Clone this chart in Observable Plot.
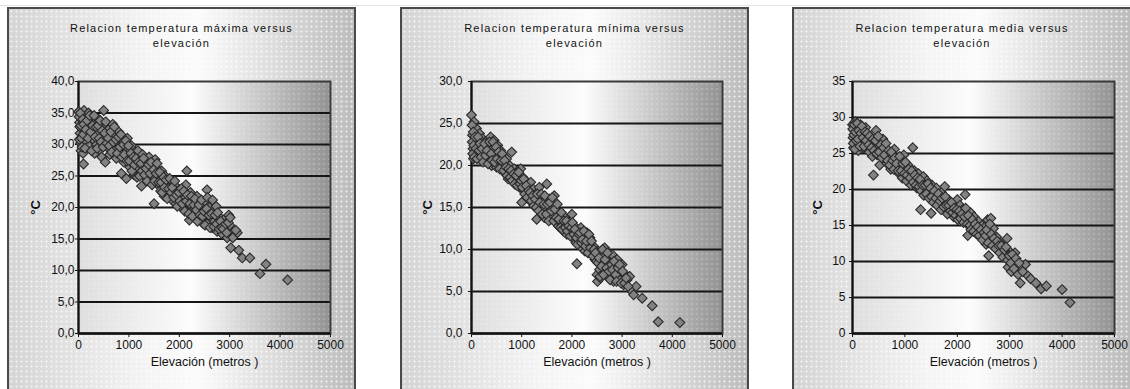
<!DOCTYPE html>
<html><head><meta charset="utf-8">
<script src="https://cdn.jsdelivr.net/npm/d3@7"></script>
<script src="https://cdn.jsdelivr.net/npm/@observablehq/plot@0.6"></script>
<style>
body{margin:0;background:#fff;}
#wrap{position:relative;width:1130px;height:389px;overflow:hidden;font-family:"Liberation Sans",Arial,sans-serif;}
#topline{position:absolute;left:0;top:5px;width:1130px;height:1px;background:#e2e2e2;}
.panel{position:absolute;top:7px;height:400px;box-sizing:border-box;border:2px solid #4a4a4a;
 background-image: radial-gradient(circle, rgba(255,255,255,0.6) 0.9px, transparent 1.3px), linear-gradient(to right,#d4d4d4 0%,#f4f4f4 40%,#fbfbfb 55%,#bcbcbc 100%);
 background-size: 5px 5px, 100% 100%;}
.title{position:absolute;left:0;right:0;top:12px;text-align:center;font-size:11px;line-height:15px;letter-spacing:1.2px;color:#111;}
</style></head>
<body><div id="wrap"><div id="topline"></div></div>
<script>
// ---- data ----
const elevTicks = [0, 1000, 2000, 3000, 4000, 5000];
const ticksMax = [0, 5, 10, 15, 20, 25, 30, 35, 40];
const ticksMin = [0, 5, 10, 15, 20, 25, 30];
const ticksMedia = [0, 5, 10, 15, 20, 25, 30, 35];
const titles = [
  "Relacion temperatura máxima versus<br>elevación",
  "Relacion temperatura mínima versus<br>elevación",
  "Relacion temperatura media versus<br>elevación"
];
const xLabel = "Elevación (metros )";
const yLabel = "°C";

// [elevación m, temperatura máxima °C]
const puntosMax = [[0,35.2],[20,33.5],[30,31.8],[40,30.2],[50,29.0],[60,34.8],[80,32.6],[90,28.6],[100,26.9],[110,35.4],[120,33.9],[140,31.2],[150,34.6],[160,30.4],[180,32.8],[200,35.0],[210,29.8],[230,33.4],[250,31.6],[270,34.2],[290,30.8],[300,32.2],[320,28.6],[340,33.6],[360,30.0],[380,31.8],[400,34.0],[420,29.2],[440,32.6],[460,28.0],[480,30.6],[500,35.4],[510,33.0],[530,27.2],[550,31.4],[570,29.6],[600,32.4],[620,28.4],[650,30.8],[680,33.2],[700,29.0],[720,31.6],[750,27.8],[780,30.2],[800,32.0],[830,28.6],[850,25.4],[870,30.8],[900,27.2],[920,29.6],[950,24.6],[970,31.0],[1000,28.2],[1020,26.4],[1050,29.8],[1080,27.0],[1100,25.2],[1120,28.8],[1150,26.2],[1180,29.0],[1200,27.6],[1230,25.6],[1250,23.4],[1270,28.4],[1300,26.6],[1330,24.8],[1350,27.4],[1380,25.8],[1400,28.0],[1430,24.2],[1450,26.8],[1480,25.0],[1500,20.6],[1520,27.6],[1550,23.8],[1580,26.0],[1600,24.6],[1630,22.6],[1650,25.8],[1680,23.6],[1700,21.8],[1720,25.0],[1750,23.0],[1780,24.2],[1800,22.0],[1830,23.6],[1850,21.2],[1880,24.0],[1900,22.6],[1930,20.6],[1950,23.2],[1980,21.8],[2000,22.8],[2030,20.2],[2050,22.0],[2080,19.8],[2100,21.4],[2130,23.6],[2150,25.8],[2180,20.8],[2200,18.0],[2220,22.4],[2250,19.6],[2280,21.2],[2300,20.0],[2330,18.6],[2350,21.8],[2380,19.2],[2400,20.6],[2430,18.0],[2450,19.8],[2480,17.4],[2500,21.0],[2520,18.8],[2550,22.8],[2580,17.6],[2600,20.0],[2620,18.4],[2650,16.8],[2680,19.4],[2700,17.8],[2730,20.2],[2750,16.2],[2780,18.6],[2800,17.0],[2850,15.8],[2880,18.0],[2900,16.4],[2950,15.2],[2980,18.8],[3000,17.2],[3020,13.6],[3050,16.0],[3100,15.6],[3150,16.0],[3180,13.2],[3250,12.0],[3400,12.0],[3600,9.5],[3720,11.0],[4150,8.5],
[10,34.4],[15,30.8],[25,32.8],[35,35.0],[45,33.0],[55,31.0],[70,29.6],[85,34.0],[95,31.6],[105,33.2],[130,29.4],[145,32.4],[170,33.8],[190,31.0],[220,34.6],[240,32.0],[260,29.0],[280,33.0],[310,34.6],[330,31.2],[350,32.8],[370,29.4],[390,33.0],[410,31.0],[430,33.8],[450,30.4],[470,32.2],[490,29.6],[520,31.8],[540,33.6],[560,30.2],[590,31.0],[610,29.8],[640,32.0],[660,28.8],[690,30.4],[710,32.8],[740,30.8],[770,28.6],[790,31.2],[820,29.6],[840,31.6],[860,28.0],[890,30.0],[910,28.4],[940,30.6],[960,27.4],[990,29.8],[1010,27.4],[1040,28.6],[1060,25.8],[1090,28.0],[1110,26.8],[1140,27.8],[1160,24.8],[1190,27.2],[1210,25.0],[1240,27.0],[1260,25.8],[1290,27.8],[1310,25.2],[1340,26.2],[1360,24.2],[1390,26.8],[1420,25.4],[1440,27.2],[1460,23.6],[1490,26.0],[1510,24.2],[1540,25.4],[1560,27.0],[1590,24.0],[1610,25.6],[1640,24.0],[1660,22.4],[1690,24.8],[1710,23.2],[1740,24.4],[1760,21.4],[1790,23.0],[1810,24.6],[1840,22.4],[1860,23.2],[1890,21.6],[1910,24.2],[1940,22.0],[1960,20.2],[1990,22.4],[2010,21.0],[2040,23.0],[2060,20.6],[2090,22.6],[2110,19.4],[2140,21.0],[2160,22.0],[2190,19.0],[2210,20.6],[2240,21.8],[2260,18.6],[2290,20.4],[2310,21.4],[2340,19.6],[2360,17.8],[2390,20.4],[2410,18.8],[2440,21.2],[2460,18.6],[2490,19.4],[2510,17.2],[2540,19.8],[2560,21.6],[2590,18.8],[2610,16.8],[2640,19.0],[2660,21.2],[2690,17.0],[2710,18.8],[2740,17.4],[2760,19.2],[2790,16.6],[2820,17.8],[2840,16.8],[2870,16.6],[2920,17.4],[2940,16.0],[2970,17.6],[3010,18.4],[3060,15.2],[3120,16.4]];

// [elevación m, temperatura mínima °C]
const puntosMin = [[0,26.0],[20,23.6],[30,22.0],[40,20.8],[50,25.2],[60,23.0],[80,21.6],[100,24.4],[120,22.6],[140,21.2],[160,23.8],[180,22.2],[200,20.6],[220,23.2],[250,21.6],[270,22.8],[300,20.4],[320,22.4],[350,21.0],[380,23.4],[400,20.0],[420,22.0],[450,23.0],[480,21.0],[500,19.8],[520,22.4],[550,20.6],[580,21.8],[600,19.6],[630,21.2],[650,20.2],[680,19.0],[700,20.8],[730,18.4],[760,20.0],[800,21.6],[820,18.8],[850,19.6],[880,17.8],[900,19.2],[930,18.2],[960,17.4],[980,19.6],[1000,15.6],[1020,18.6],[1050,17.0],[1080,18.2],[1100,16.4],[1130,17.6],[1160,16.0],[1180,18.0],[1200,15.6],[1230,17.2],[1260,15.2],[1280,16.6],[1300,13.6],[1320,15.8],[1350,17.4],[1380,14.8],[1400,16.2],[1430,15.0],[1450,13.8],[1480,15.6],[1500,17.8],[1520,14.4],[1550,16.0],[1580,13.6],[1600,15.2],[1630,14.0],[1650,16.4],[1680,13.2],[1700,14.6],[1730,12.8],[1760,14.0],[1800,13.0],[1830,12.2],[1860,13.8],[1900,11.8],[1930,13.2],[1960,12.4],[2000,14.2],[2020,11.4],[2050,12.8],[2080,10.8],[2100,8.3],[2120,12.2],[2150,11.0],[2180,12.6],[2200,10.2],[2230,11.6],[2260,9.8],[2300,12.0],[2330,10.6],[2360,11.4],[2400,9.6],[2430,10.4],[2460,8.8],[2500,7.0],[2510,6.2],[2530,9.8],[2550,7.6],[2570,6.6],[2600,9.2],[2620,8.2],[2650,10.2],[2680,7.4],[2700,9.0],[2720,6.8],[2750,8.4],[2780,7.2],[2800,9.4],[2830,6.2],[2860,7.8],[2900,8.8],[2930,6.6],[2960,7.4],[3000,8.2],[3030,5.8],[3060,7.0],[3100,6.4],[3150,6.8],[3200,5.0],[3230,4.6],[3280,5.6],[3400,4.2],[3600,3.3],[3720,1.4],[4150,1.3],
[10,24.8],[15,22.8],[25,21.4],[35,24.0],[45,22.4],[55,21.0],[70,23.4],[90,22.0],[110,20.8],[130,23.4],[150,21.8],[170,22.6],[190,21.0],[210,22.0],[230,20.4],[260,22.6],[280,21.2],[310,21.8],[330,20.2],[360,22.8],[390,21.4],[410,20.6],[430,22.8],[460,20.4],[490,22.2],[510,20.8],[540,21.6],[560,19.6],[590,20.6],[610,21.4],[640,19.4],[660,20.6],[690,19.8],[710,18.8],[740,19.6],[770,18.6],[790,19.4],[810,18.2],[840,19.0],[860,17.8],[890,18.8],[910,17.6],[940,19.2],[970,17.8],[990,18.2],[1010,17.4],[1040,18.4],[1060,16.6],[1090,17.6],[1110,16.2],[1140,17.0],[1170,16.8],[1190,15.8],[1220,16.4],[1240,15.2],[1270,16.0],[1290,15.0],[1310,16.6],[1340,14.6],[1360,15.6],[1390,16.6],[1410,14.2],[1440,15.4],[1460,16.4],[1490,14.2],[1510,15.4],[1540,13.4],[1560,15.6],[1590,14.6],[1610,16.2],[1640,13.4],[1660,14.8],[1690,13.8],[1710,15.4],[1740,13.6],[1770,12.6],[1790,14.4],[1810,12.4],[1840,13.4],[1870,12.6],[1890,13.4],[1910,12.2],[1940,12.8],[1970,11.6],[1990,12.6],[2010,13.2],[2040,11.8],[2060,12.4],[2090,11.4],[2110,10.6],[2140,11.8],[2160,12.0],[2190,10.8],[2210,11.2],[2240,12.2],[2270,10.4],[2290,11.0],[2320,9.6],[2340,11.8],[2370,10.2],[2390,11.0],[2420,9.2],[2440,10.0],[2470,9.6],[2490,8.6],[2520,8.4],[2540,9.0],[2560,6.8],[2590,8.0],[2610,10.0],[2630,7.0],[2660,8.8],[2690,7.8],[2710,9.6],[2740,7.4],[2760,6.4],[2790,8.2],[2810,7.6],[2840,8.6],[2870,7.0],[2890,6.2],[2920,7.8],[2950,8.2],[2980,6.0],[3010,7.4],[3050,6.0],[3080,6.6],[3120,5.6]];

// [elevación m, temperatura media °C]
const puntosMedia = [[0,29.0],[10,27.2],[20,25.8],[30,28.2],[40,26.6],[50,29.4],[60,27.8],[80,26.0],[100,28.6],[110,25.4],[130,27.4],[150,29.0],[170,26.4],[190,28.0],[210,25.8],[230,27.0],[250,28.6],[270,26.2],[300,27.6],[320,25.2],[350,26.8],[380,24.6],[400,22.0],[420,26.0],[450,28.2],[470,24.8],[500,26.6],[520,23.4],[550,25.6],[580,27.0],[600,24.2],[630,25.8],[660,23.6],[700,25.0],[730,22.8],[760,24.6],[800,25.6],[830,23.2],[860,24.2],[890,22.2],[920,23.8],[950,21.6],[980,24.8],[1000,22.8],[1030,21.2],[1060,23.4],[1090,22.0],[1120,20.6],[1150,25.8],[1180,22.6],[1200,21.4],[1230,20.2],[1260,22.2],[1300,17.2],[1320,20.8],[1350,21.8],[1380,19.6],[1420,21.2],[1450,20.0],[1480,19.0],[1500,16.7],[1520,20.6],[1550,19.4],[1580,18.4],[1600,20.2],[1630,18.8],[1660,17.6],[1700,19.6],[1730,18.2],[1760,20.4],[1800,17.4],[1830,18.6],[1860,16.8],[1900,18.0],[1930,16.2],[1960,17.6],[2000,18.6],[2020,16.8],[2050,17.8],[2080,15.8],[2100,17.2],[2150,19.3],[2170,16.2],[2200,13.6],[2220,15.6],[2250,16.8],[2280,15.0],[2320,16.2],[2350,14.6],[2400,15.6],[2430,14.2],[2470,15.0],[2500,13.4],[2530,14.8],[2550,12.4],[2580,15.8],[2600,10.8],[2610,13.6],[2640,16.0],[2660,12.8],[2690,14.6],[2720,12.2],[2750,13.4],[2780,11.6],[2820,12.6],[2850,11.0],[2880,12.0],[2920,10.6],[2950,13.2],[2970,9.2],[3000,11.4],[3030,8.6],[3060,10.2],[3100,11.2],[3130,9.4],[3160,8.2],[3200,7.0],[3230,9.0],[3300,9.6],[3350,8.0],[3400,7.6],[3500,7.0],[3600,6.2],[3700,6.6],[4000,6.1],[4150,4.3],
[5,28.4],[15,26.4],[25,27.6],[35,29.0],[45,25.6],[55,28.0],[70,26.8],[90,29.2],[105,27.0],[120,28.2],[140,26.0],[160,27.8],[180,28.8],[200,27.2],[220,26.0],[240,28.0],[260,26.8],[280,27.8],[310,26.2],[330,27.4],[360,25.8],[390,27.0],[410,25.4],[440,26.8],[460,25.0],[490,27.4],[510,25.2],[540,26.2],[560,24.4],[590,25.8],[610,24.8],[640,26.4],[670,24.0],[690,25.4],[710,23.4],[740,25.2],[770,24.0],[790,22.8],[810,24.4],[840,23.6],[870,22.6],[900,24.6],[930,22.6],[960,23.6],[990,22.2],[1010,23.8],[1040,22.0],[1070,22.8],[1100,21.6],[1130,22.6],[1160,21.0],[1190,22.0],[1210,20.6],[1240,21.6],[1270,20.4],[1290,21.4],[1310,19.8],[1340,20.6],[1360,19.2],[1390,20.6],[1410,19.4],[1440,20.8],[1460,18.8],[1490,20.2],[1510,19.0],[1540,18.2],[1560,19.8],[1590,18.8],[1610,17.8],[1640,19.4],[1670,18.4],[1690,17.2],[1710,18.8],[1740,17.6],[1770,19.0],[1790,17.8],[1810,16.6],[1840,17.8],[1870,17.0],[1890,18.2],[1910,16.8],[1940,17.4],[1970,16.4],[1990,17.2],[2010,15.8],[2040,17.0],[2060,16.0],[2090,16.6],[2120,15.4],[2140,16.2],[2160,17.4],[2190,15.2],[2210,16.4],[2240,15.0],[2260,14.4],[2290,15.8],[2310,14.2],[2340,15.2],[2370,13.8],[2390,14.8],[2420,13.6],[2450,14.4],[2480,13.0],[2510,14.0],[2540,13.6],[2560,14.4],[2590,12.6],[2620,15.2],[2650,13.8],[2670,12.2],[2700,13.2],[2730,11.8],[2760,12.8],[2790,12.2],[2810,11.2],[2840,12.2],[2870,10.6],[2900,11.6],[2930,12.0],[2960,10.2],[2990,10.8],[3020,9.8],[3050,11.0],[3080,9.0],[3120,10.4],[3180,9.8],[3250,8.6]];

// ---- drawing ----
const wrap = document.getElementById("wrap");
const fmtComma = d => d.toFixed(1).replace(".", ",");
const fmtInt = d => String(d);

function panel(cfg) {
  const H = 382;
  const div = document.createElement("div");
  div.className = "panel";
  div.style.left = cfg.left + "px";
  div.style.width = cfg.width + "px";
  const t = document.createElement("div");
  t.className = "title";
  t.innerHTML = cfg.title;
  div.appendChild(t);
  wrap.appendChild(div);

  const yMax = d3.max(cfg.yTicks);
  const svg = Plot.plot({
    width: cfg.width, height: H,
    marginLeft: cfg.ml, marginRight: cfg.mr, marginTop: 74, marginBottom: 56,
    style: {background: "transparent", fontFamily: "'Liberation Sans', Arial, sans-serif", fontSize: "12px", color: "#111", overflow: "visible"},
    x: {domain: [0, 5000], ticks: elevTicks, tickSize: 4, tickPadding: 3, tickFormat: d => String(d),
        label: xLabel, labelAnchor: "center", labelOffset: 32, labelArrow: "none"},
    y: {domain: [0, yMax], ticks: cfg.yTicks, tickSize: 3, tickPadding: cfg.tp, tickFormat: cfg.fmt,
        label: yLabel, labelAnchor: "center", labelOffset: cfg.lo, labelArrow: "none"},
    marks: [
      Plot.frame({fill: `url(#grad${cfg.id})`}),
      Plot.frame({fill: `url(#pat${cfg.id})`}),
      Plot.ruleY(cfg.yTicks.filter(d => d > 0 && d < yMax), {stroke: "#151515", strokeWidth: 2}),
      Plot.frame({stroke: "#3a3a3a", strokeWidth: 2}),
      Plot.ruleX([0], {stroke: "#111", strokeWidth: 2}),
      Plot.ruleY([0], {stroke: "#111", strokeWidth: 2.5}),
      Plot.dot(cfg.pts, {x: d => d[0], y: d => d[1], symbol: "diamond2", r: 4.4, fill: "#828282", stroke: "#2a2a2a", strokeWidth: 1.1})
    ]
  });
  const defs = d3.select(svg).insert("defs", ":first-child");
  const g = defs.append("linearGradient").attr("id", "grad" + cfg.id).attr("x1", 0).attr("x2", 1).attr("y1", 0).attr("y2", 0);
  g.append("stop").attr("offset", 0).attr("stop-color", "#dedede");
  g.append("stop").attr("offset", 0.45).attr("stop-color", "#fcfcfc");
  g.append("stop").attr("offset", 1).attr("stop-color", "#929292");
  const p = defs.append("pattern").attr("id", "pat" + cfg.id).attr("width", 5).attr("height", 5).attr("patternUnits", "userSpaceOnUse");
  p.append("circle").attr("cx", 1.5).attr("cy", 1.5).attr("r", 0.8).attr("fill", "#fff").attr("fill-opacity", 0.5);
  d3.select(svg).selectAll('[aria-label="y-axis label"] text').attr("font-size", 13).attr("font-weight", "bold");
  d3.select(svg).selectAll('[aria-label="x-axis label"] text').attr("font-size", 12.5);
  svg.style.position = "absolute";
  svg.style.left = cfg.left + "px";
  svg.style.top = "7px";
  wrap.appendChild(svg);
}

panel({id: 1, left: 7, width: 349, ml: 71, mr: 26, pts: puntosMax, yTicks: ticksMax, fmt: fmtComma, title: titles[0], tp: 1, lo: 48});
panel({id: 2, left: 400, width: 349, ml: 71, mr: 27, pts: puntosMin, yTicks: ticksMin, fmt: fmtComma, title: titles[1], tp: 6, lo: 49});
panel({id: 3, left: 792, width: 340, ml: 60, mr: 18, pts: puntosMedia, yTicks: ticksMedia, fmt: fmtInt, title: titles[2], tp: 4, lo: 40});
</script></body></html>
